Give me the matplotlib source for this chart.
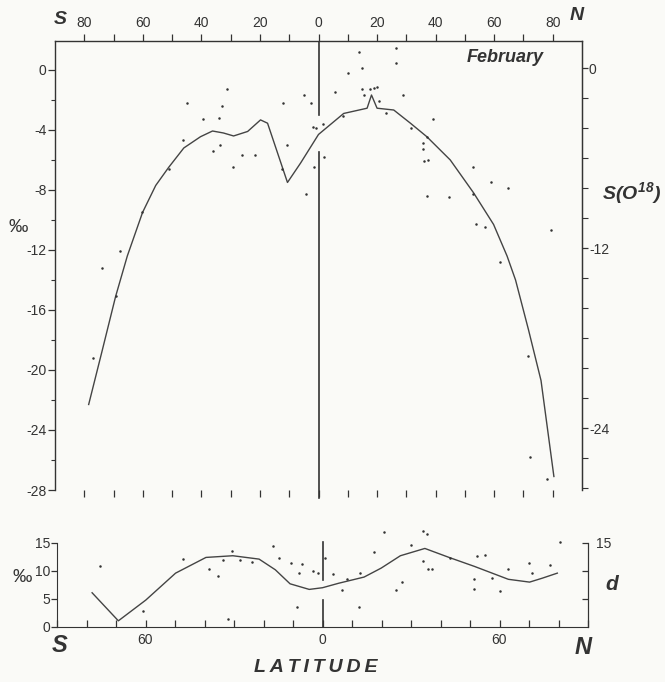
import matplotlib
matplotlib.use('Agg')
from matplotlib import pyplot as plt
from matplotlib.ticker import FuncFormatter

plt.rcParams['font.family'] = ['Liberation Sans', 'DejaVu Sans']
plt.rcParams['axes.unicode_minus'] = False
plt.rcParams['mathtext.fontset'] = 'custom'
plt.rcParams['mathtext.it'] = 'Liberation Sans:bold:italic'
plt.rcParams['mathtext.rm'] = 'Liberation Sans:bold:italic'

# delta O18, February: smoothed curve and station values
o18Lat = [-78.5, -74, -69.3, -65.3, -60.1, -55.6, -51.2, -46, -40.3, -36.2, -32.5, -29,
          -24.2, -19.8, -17.4, -10.6, -6.1, 0, 8.6, 16.6, 18.1, 20, 25.7, 31.4, 37, 45,
          53, 59.8, 64.4, 67.3, 71.7, 76, 80.4]
o18Val = [-22.3, -18.8, -15.1, -12.4, -9.5, -7.7, -6.5, -5.2, -4.45, -4.07, -4.2, -4.4,
          -4.1, -3.33, -3.55, -7.5, -6.2, -4.3, -2.9, -2.55, -1.67, -2.55, -2.67, -3.55,
          -4.45, -6.0, -8.2, -10.3, -12.4, -14.0, -17.3, -20.7, -27.1]
o18PtLat = [-77.1, -74, -69.3, -67.8, -60.4, -51.2, -46.4, -45, -39.6, -36.2, -34, -33.8,
            -32.8, -31.1, -29.3, -26, -21.8, -12, -12.6, -10.6, -4.8, -4.1, -2.7, -2.0,
            -0.7, -1.7, 1.7, 2.0, 5.8, 8.5, 10.2, 14, 15, 14.7, 15.7, 17.7, 18.8, 20,
            20.8, 23.2, 26.3, 26.6, 29, 31.7, 35.8, 35.8, 36.2, 37.2, 37.5, 37.2, 39.2,
            44.7, 52.6, 52.6, 53.9, 56.7, 59, 62.1, 64.8, 71.7, 72.4, 78.2, 79.5]
o18PtVal = [-19.2, -13.2, -15.1, -12.1, -9.5, -6.6, -4.7, -2.2, -3.3, -5.4, -3.2, -5.0,
            -2.4, -1.3, -6.5, -5.7, -5.7, -2.2, -6.6, -5.0, -1.7, -8.3, -2.2, -3.8,
            -3.9, -6.5, -3.6, -5.8, -1.5, -3.1, -0.2, 1.2, 0.13, -1.3, -1.67, -1.27, -1.2,
            -1.15, -2.1, -2.87, 1.47, 0.47, -1.67, -3.9, -4.9, -5.3, -6.1, -4.5, -6.0,
            -8.4, -3.3, -8.5, -6.5, -8.3, -10.3, -10.5, -7.5, -12.8, -7.9, -19.1, -25.8,
            -27.3, -10.7]

# deuterium excess d: smoothed curve and station values
dLat = [-78.1, -69.2, -59.9, -49.8, -39.5, -30.4, -21.5, -16, -11, -4.5, 0, 5.5, 14.1,
        19.9, 26.4, 34.7, 42.9, 51.5, 63, 70.2, 74.5, 79.6]
dVal = [6.1, 1.1, 4.8, 9.6, 12.4, 12.7, 12.1, 10.2, 7.7, 6.7, 7.0, 7.8, 8.9, 10.5, 12.7,
        14.0, 12.4, 10.8, 8.5, 8.0, 8.7, 9.6]
dPtLat = [-75.3, -61, -47.4, -38.6, -35.5, -33.6, -30.8, -27.8, -24, -31.9, -16.8, -14.6,
          -10.6, -6.8, -7.8, -8.5, -3.1, -1.4, 0.9, 3.7, 6.7, 8.4, 12.7, 12.4, 17.3, 21,
          24.9, 27.1, 30, 34.2, 35.4, 34.2, 35.7, 37.2, 43.2, 51.3, 51.3, 52.3, 55.1,
          57.3, 60.1, 63, 69.9, 70.9, 77.1, 80.5]
dPtVal = [10.9, 2.9, 12.1, 10.4, 9.1, 12.0, 13.5, 12.0, 11.5, 1.4, 14.5, 12.3, 11.4, 11.3,
          9.6, 3.5, 10.0, 9.7, 12.3, 9.5, 6.6, 8.5, 9.7, 3.5, 13.3, 17.0, 6.6, 8.1, 14.6,
          17.1, 16.5, 11.7, 10.4, 10.3, 12.3, 8.5, 6.7, 12.7, 12.9, 8.7, 6.4, 10.3, 11.4,
          9.7, 11.1, 15.2]

ink = '#333333'
bg = '#fafaf7'
W, H = 665., 682.

fig = plt.figure(figsize=(6.65, 6.82), dpi=100, facecolor=bg)

############################ upper panel
ax1 = fig.add_axes([55 / W, 1 - 490 / H, 527 / W, 449 / H], facecolor='none')
ax1.set_xlim(-90, 90)
ax1.set_ylim(-28, 1.93)
ax1.plot(o18Lat, o18Val, '-', color='#444444', lw=1.0)
ax1.plot(o18PtLat, o18PtVal, 'o', color=ink, ms=1.8, mew=0)
ax1.plot([0, 0], [1.93, -3.0], color=ink, lw=1.2)
ax1.plot([0, 0], [-5.5, -28.5], color=ink, lw=1.2, clip_on=False)
for side in ['left', 'right', 'top']:
    ax1.spines[side].set_color(ink)
    ax1.spines[side].set_linewidth(1.0)
ax1.spines['bottom'].set_visible(False)
ax1.set_xticks(range(-80, 81, 20))
ax1.set_xticks(range(-70, 71, 20), minor=True)
ax1.xaxis.set_major_formatter(FuncFormatter(lambda v, p: '%d' % abs(v)))
ax1.tick_params(axis='x', which='both', top=True, bottom=True, labeltop=True,
                labelbottom=False, direction='out', length=5, width=0.9, color=ink,
                labelsize=10, labelcolor=ink, pad=3)
ax1.set_yticks(range(-28, 1, 4))
ax1.set_yticks(range(-26, 0, 4), minor=True)
ax1.tick_params(axis='y', which='major', direction='out', length=5, width=0.9, color=ink,
                labelsize=10, labelcolor=ink, pad=1)
ax1.tick_params(axis='y', which='minor', direction='out', length=3, width=0.8, color=ink)

ax1r = ax1.twinx()
ax1r.set_ylim(-28 - 0.13, 1.93 - 0.13)
ax1r.set_yticks([0, -12, -24])
ax1r.set_yticks(range(-28, 1, 2), minor=True)
ax1r.tick_params(axis='y', which='major', direction='out', length=4, width=0.9, color=ink,
                 labelsize=10, labelcolor=ink, pad=1)
ax1r.tick_params(axis='y', which='minor', direction='out', length=4, width=0.8, color=ink)
for side in ['left', 'top', 'bottom']:
    ax1r.spines[side].set_visible(False)
ax1r.spines['right'].set_color(ink)

ax1.text(77, 0.85, 'February', fontsize=13, fontweight='bold', fontstyle='italic',
         color=ink, ha='right', va='center')
fig.text(60 / W, 1 - 20 / H, 'S', fontsize=14, fontweight='bold', fontstyle='italic',
         color=ink, ha='center', va='center')
fig.text(577 / W, 1 - 16 / H, 'N', fontsize=14, fontweight='bold', fontstyle='italic',
         color=ink, ha='center', va='center')
fig.text(632 / W, 1 - 193 / H, r'$S(O^{18})$', fontsize=14, color=ink, ha='center',
         va='center')
fig.text(18 / W, 1 - 228 / H, '\u2030', fontsize=14, color=ink, ha='center', va='center')

############################ lower panel
ax2 = fig.add_axes([57 / W, 1 - 627 / H, 531 / W, 101 / H], facecolor='none')
ax2.set_xlim(-90, 90)
ax2.set_ylim(0, 18)
ax2.plot(dLat, dVal, '-', color='#444444', lw=1.0)
ax2.plot(dPtLat, dPtVal, 'o', color=ink, ms=1.8, mew=0, clip_on=False)
ax2.plot([0, 0], [15.2, 8.4], color=ink, lw=1.2)
ax2.plot([0, 0], [4.8, 0], color=ink, lw=1.2)
ax2.spines['top'].set_visible(False)
for side in ['left', 'right', 'bottom']:
    ax2.spines[side].set_color(ink)
ax2.spines['left'].set_bounds(0, 15)
ax2.spines['right'].set_bounds(0, 15)
ax2.set_xticks([-60, 0, 60])
ax2.set_xticks(range(-90, 91, 10), minor=True)
ax2.xaxis.set_major_formatter(FuncFormatter(lambda v, p: '%d' % abs(v)))
ax2.tick_params(axis='x', which='both', direction='in', length=5, width=0.9, color=ink,
                labelsize=10, labelcolor=ink, pad=4)
ax2.set_yticks([0, 5, 10, 15])
ax2.tick_params(axis='y', which='major', left=True, right=False, direction='out', length=4,
                width=0.9, color=ink, labelsize=10, labelcolor=ink, pad=1)

ax2r = ax2.twinx()
ax2r.set_ylim(0, 18)
ax2r.set_yticks([5, 10, 15])
ax2r.set_yticklabels(['', '', '15'])
ax2r.tick_params(axis='y', direction='in', length=4, width=0.9, color=ink, labelsize=10,
                 labelcolor=ink, pad=6)
for side in ['left', 'top', 'bottom']:
    ax2r.spines[side].set_visible(False)
ax2r.spines['right'].set_bounds(0, 15)
ax2r.spines['right'].set_color(ink)

fig.text(60 / W, 1 - 646 / H, 'S', fontsize=17, fontweight='bold', fontstyle='italic',
         color=ink, ha='center', va='center')
fig.text(583 / W, 1 - 648 / H, 'N', fontsize=17, fontweight='bold', fontstyle='italic',
         color=ink, ha='center', va='center')
fig.text(316 / W, 1 - 668 / H, 'L A T I T U D E'.replace(' ', '\u2009'), fontsize=14,
         fontweight='bold', fontstyle='italic', color=ink, ha='center', va='center')
fig.text(612 / W, 1 - 585 / H, 'd', fontsize=15, fontweight='bold', fontstyle='italic',
         color=ink, ha='center', va='center')
fig.text(22 / W, 1 - 577 / H, '\u2030', fontsize=14, color=ink, ha='center', va='center')

plt.savefig('out.png', dpi=100, facecolor=bg)
plt.close()
